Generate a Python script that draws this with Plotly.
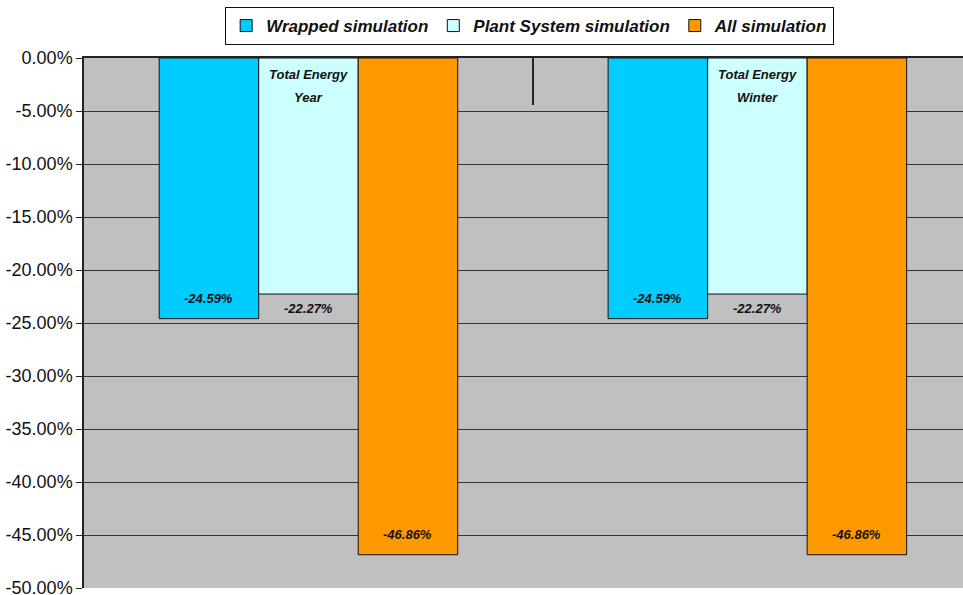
import plotly.graph_objects as go

# Savings per scenario, in percent of baseline energy use
categories = ["Total Energy Year", "Total Energy Winter"]
category_lines = [["Total Energy", "Year"], ["Total Energy", "Winter"]]
series_names = ["Wrapped simulation", "Plant System simulation", "All simulation"]
wrapped = [-24.59, -24.59]
plant_system = [-22.27, -22.27]
all_sim = [-46.86, -46.86]
y_ticks = [0, -5, -10, -15, -20, -25, -30, -35, -40, -45, -50]

series_values = [wrapped, plant_system, all_sim]
colors = ["#00CCFF", "#CCFFFF", "#FF9900"]
label_shift = [20, -14, 20]  # px: inside near bar end, below end, inside near end

FONT = "Arial, Liberation Sans, sans-serif"
BARGAP = 0.335

fig = go.Figure()
for name, vals, col in zip(series_names, series_values, colors):
    fig.add_trace(go.Bar(
        x=categories, y=vals, name=name,
        marker=dict(color=col, line=dict(color="#111111", width=1)),
        hoverinfo="y",
    ))

annotations = []
n = len(series_names)
bar_w = (1 - BARGAP) / n
for s, vals in enumerate(series_values):
    off = (s - (n - 1) / 2) * bar_w
    for c, v in enumerate(vals):
        annotations.append(dict(
            x=c + off, y=v, xref="x", yref="y",
            text=f"<b><i>{v:.2f}%</i></b>", showarrow=False, yshift=label_shift[s],
            font=dict(family=FONT, size=13, color="#111111"),
        ))
# category labels inside the plot just under the top axis
for c, lines in enumerate(category_lines):
    for k, line in enumerate(lines):
        annotations.append(dict(
            x=c, y=0, xref="x", yref="y", yanchor="middle",
            text=f"<b><i>{line}</i></b>", showarrow=False, yshift=-16 - 23 * k,
            font=dict(family=FONT, size=13, color="#111111"),
        ))

fig.update_layout(
    width=963, height=595,
    margin=dict(l=84, r=0, t=58, b=7, autoexpand=False),
    paper_bgcolor="white", plot_bgcolor="#C0C0C0",
    barmode="group", bargap=BARGAP, bargroupgap=0,
    font=dict(family=FONT, size=18, color="#111111"),
    showlegend=True,
    legend=dict(
        orientation="h", x=0.507, xanchor="center", y=1.0962, yanchor="top",
        bgcolor="white", bordercolor="#111111", borderwidth=1,
        font=dict(family=FONT, size=17, color="#111111", style="italic", weight="bold"),
        traceorder="normal",
    ),
    xaxis=dict(
        type="category", side="top", range=[-0.5, 1.458],
        showticklabels=False, showgrid=False, tickson="boundaries",
        ticks="inside", ticklen=47, tickwidth=1.5, tickcolor="#222222",
        showline=True, linecolor="#222222", linewidth=1.5, automargin=False,
    ),
    yaxis=dict(
        range=[-50, 0], tickvals=y_ticks,
        ticktext=[f"{v:.2f}%" for v in y_ticks],
        ticklabeloverflow="allow", automargin=False,
        showgrid=True, gridcolor="#333333", gridwidth=1.2,
        zeroline=False, showline=True, linecolor="#222222", linewidth=1.5,
        ticks="outside", ticklen=6, tickcolor="#222222",
        tickfont=dict(family=FONT, size=18, color="#111111"),
    ),
    annotations=annotations,
)

fig.write_html("out.html")
